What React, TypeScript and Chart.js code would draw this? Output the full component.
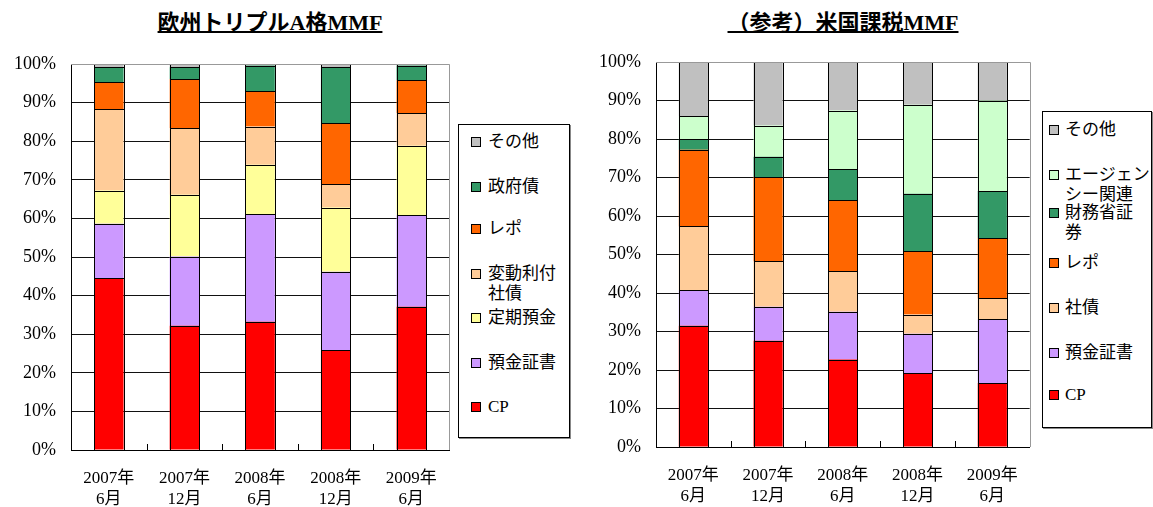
import React, { useEffect, useRef } from "react";
import { Chart, registerables } from "chart.js";

Chart.register(...registerables);

const FONT = "'Liberation Serif', 'Noto Sans CJK JP', serif";

// ---- data ----
const categories = [
  ["2007年", "6月"],
  ["2007年", "12月"],
  ["2008年", "6月"],
  ["2008年", "12月"],
  ["2009年", "6月"],
];
const yTickMax = 100;
const yTickStep = 10;

// 欧州トリプルA格MMF (bottom -> top)
const euLabels = ["CP", "預金証書", "定期預金", "変動利付社債", "レポ", "政府債", "その他"];
const euLegendLines = [["CP"], ["預金証書"], ["定期預金"], ["変動利付", "社債"], ["レポ"], ["政府債"], ["その他"]];
const euColors = ["#FF0000", "#CC99FF", "#FFFF99", "#FFCC99", "#FF6600", "#339966", "#C0C0C0"];
const euCP = [44.5, 32.2, 33.2, 25.8, 37.1];
const euCD = [14.1, 17.9, 27.9, 20.4, 23.7];
const euTime = [8.6, 16.0, 12.8, 16.6, 18.0];
const euFRN = [21.1, 17.3, 9.9, 6.1, 8.5];
const euRepo = [7.0, 12.7, 9.1, 15.8, 8.5];
const euGov = [3.9, 3.1, 6.7, 14.5, 3.8];
const euOther = [0.8, 0.8, 0.4, 0.8, 0.4];
const euSeries = [euCP, euCD, euTime, euFRN, euRepo, euGov, euOther];

// （参考）米国課税MMF (bottom -> top)
const usLabels = ["CP", "預金証書", "社債", "レポ", "財務省証券", "エージェンシー関連", "その他"];
const usLegendLines = [["CP"], ["預金証書"], ["社債"], ["レポ"], ["財務省証", "券"], ["エージェン", "シー関連"], ["その他"]];
const usColors = ["#FF0000", "#CC99FF", "#FFCC99", "#FF6600", "#339966", "#CCFFCC", "#C0C0C0"];
const usCP = [31.5, 27.6, 22.7, 19.1, 16.6];
const usCD = [9.2, 8.8, 12.4, 10.3, 16.6];
const usCorp = [16.6, 11.8, 10.5, 5.0, 5.4];
const usRepo = [19.9, 21.9, 18.5, 16.5, 15.7];
const usTsy = [2.8, 5.3, 8.1, 14.9, 12.2];
const usAgency = [6.0, 8.1, 15.2, 23.1, 23.5];
const usOther = [14.0, 16.5, 12.6, 11.1, 10.0];
const usSeries = [usCP, usCD, usCorp, usRepo, usTsy, usAgency, usOther];

// legend item offsets (top -> bottom) from legend box top
const euLegendOffsets = [17, 62, 104, 149, 193, 238, 282];
const usLegendOffsets = [18, 63, 101, 151, 196, 241, 283];

const framePlugin = {
  id: "frame",
  afterDatasetsDraw(chart: any) {
    const { ctx, chartArea } = chart;
    const { left, right, top, bottom } = chartArea;
    ctx.save();
    // outline every bar segment using the element geometry from the library
    ctx.strokeStyle = "#000";
    ctx.lineWidth = 1;
    chart.data.datasets.forEach((_d: any, di: number) => {
      const meta = chart.getDatasetMeta(di);
      meta.data.forEach((el: any) => {
        const p = el.getProps(["x", "y", "base", "width"], true);
        const l = Math.round(p.x - p.width / 2);
        const r = Math.round(p.x + p.width / 2);
        const t = Math.round(Math.min(p.y, p.base));
        const b = Math.round(Math.max(p.y, p.base));
        ctx.strokeRect(l + 0.5, t + 0.5, r - l, b - t);
      });
    });
    ctx.strokeStyle = "#999";
    ctx.beginPath();
    ctx.moveTo(left, Math.round(top) + 0.5);
    ctx.lineTo(Math.round(right) + 0.5, Math.round(top) + 0.5);
    ctx.lineTo(Math.round(right) + 0.5, bottom);
    ctx.stroke();
    // inward category boundary ticks
    const x = chart.scales.x;
    const n = chart.data.labels.length;
    ctx.strokeStyle = "#000";
    ctx.beginPath();
    for (let i = 0; i < n - 1; i++) {
      const px = Math.round((x.getPixelForValue(i) + x.getPixelForValue(i + 1)) / 2) + 0.5;
      ctx.moveTo(px, bottom);
      ctx.lineTo(px, bottom - 6);
    }
    ctx.stroke();
    ctx.restore();
  },
};

function makeConfig(labels: string[], colors: string[], series: number[][], padTop: number, xHeight: number) {
  return {
    type: "bar" as const,
    data: {
      labels: categories,
      datasets: series.map((d, i) => ({
        label: labels[i],
        data: d,
        backgroundColor: colors[i],
        borderWidth: 0,
        categoryPercentage: 1,
        barPercentage: 0.39,
      })),
    },
    options: {
      animation: false,
      responsive: false,
      maintainAspectRatio: false,
      layout: { padding: { top: padTop, right: 2, left: 0, bottom: 0 } },
      plugins: { legend: { display: false }, tooltip: { enabled: false }, title: { display: false } },
      scales: {
        x: {
          stacked: true,
          grid: { display: false, drawTicks: false },
          border: { color: "#000", width: 1 },
          ticks: {
            color: "#000",
            padding: 18,
            maxRotation: 0,
            autoSkip: false,
            font: { family: FONT, size: 17, lineHeight: 1.25 },
          },
          afterFit: (s: any) => {
            s.height = xHeight;
          },
        },
        y: {
          stacked: true,
          min: 0,
          max: yTickMax,
          grid: { color: "#111", lineWidth: 1, drawTicks: false },
          border: { color: "#000", width: 1 },
          ticks: {
            stepSize: yTickStep,
            color: "#000",
            padding: 15,
            font: { family: FONT, size: 18 },
            callback: (v: any) => v + "%",
          },
          afterFit: (s: any) => {
            s.width = 71;
          },
        },
      },
    },
    plugins: [framePlugin],
  };
}

function BarChart(props: { config: any; style: React.CSSProperties; width: number; height: number }) {
  const ref = useRef<HTMLCanvasElement | null>(null);
  useEffect(() => {
    if (!ref.current) return;
    const chart = new Chart(ref.current, props.config);
    return () => chart.destroy();
  }, []);
  return <canvas ref={ref} width={props.width} height={props.height} style={{ position: "absolute", ...props.style }} />;
}

function Legend(props: {
  lines: string[][];
  colors: string[];
  offsets: number[];
  box: { left: number; top: number; width: number; height: number };
  sqLeft: number;
  textLeft: number;
}) {
  const n = props.lines.length;
  const items = [];
  for (let k = 0; k < n; k++) {
    const i = n - 1 - k; // top -> bottom = reversed stack order
    const c = props.offsets[k];
    items.push(
      <div key={k}>
        <div
          style={{
            position: "absolute",
            left: props.sqLeft,
            top: c - 5,
            width: 8,
            height: 8,
            background: props.colors[i],
            border: "1px solid #000",
          }}
        />
        <div
          style={{
            position: "absolute",
            left: props.textLeft,
            top: c - 10,
            lineHeight: "20px",
            fontSize: 17,
            fontFamily: FONT,
            whiteSpace: "nowrap",
            color: "#000",
          }}
        >
          {props.lines[i].map((t, j) => (
            <div key={j}>{t}</div>
          ))}
        </div>
      </div>
    );
  }
  return (
    <div
      style={{
        position: "absolute",
        left: props.box.left,
        top: props.box.top,
        width: props.box.width,
        height: props.box.height,
        border: "1px solid #000",
        boxShadow: "1px 1px 0 #888",
        boxSizing: "border-box",
        background: "#fff",
      }}
    >
      {items}
    </div>
  );
}

const titleStyle: React.CSSProperties = {
  position: "absolute",
  top: 4,
  fontFamily: FONT,
  fontWeight: "bold",
  fontSize: 22,
  textDecoration: "underline",
  textDecorationThickness: "2px",
  whiteSpace: "nowrap",
  transform: "translateX(-50%)",
  color: "#000",
};

export default function App() {
  return (
    <div style={{ position: "absolute", left: 0, top: 0, width: 1153, height: 507, background: "#fff", overflow: "hidden" }}>
      <div style={{ ...titleStyle, left: 270 }}>欧州トリプルA格MMF</div>
      <div style={{ ...titleStyle, left: 843 }}>（参考）米国課税MMF</div>
      <BarChart
        config={makeConfig(euLabels, euColors, euSeries, 64, 57)}
        style={{ left: 0, top: 0 }}
        width={455}
        height={507}
      />
      <BarChart
        config={makeConfig(usLabels, usColors, usSeries, 62, 60)}
        style={{ left: 585, top: 0 }}
        width={451}
        height={507}
      />
      <Legend
        lines={euLegendLines}
        colors={euColors}
        offsets={euLegendOffsets}
        box={{ left: 458, top: 124, width: 112, height: 314 }}
        sqLeft={12}
        textLeft={29}
      />
      <Legend
        lines={usLegendLines}
        colors={usColors}
        offsets={usLegendOffsets}
        box={{ left: 1042, top: 111, width: 110, height: 317 }}
        sqLeft={6}
        textLeft={22}
      />
    </div>
  );
}
